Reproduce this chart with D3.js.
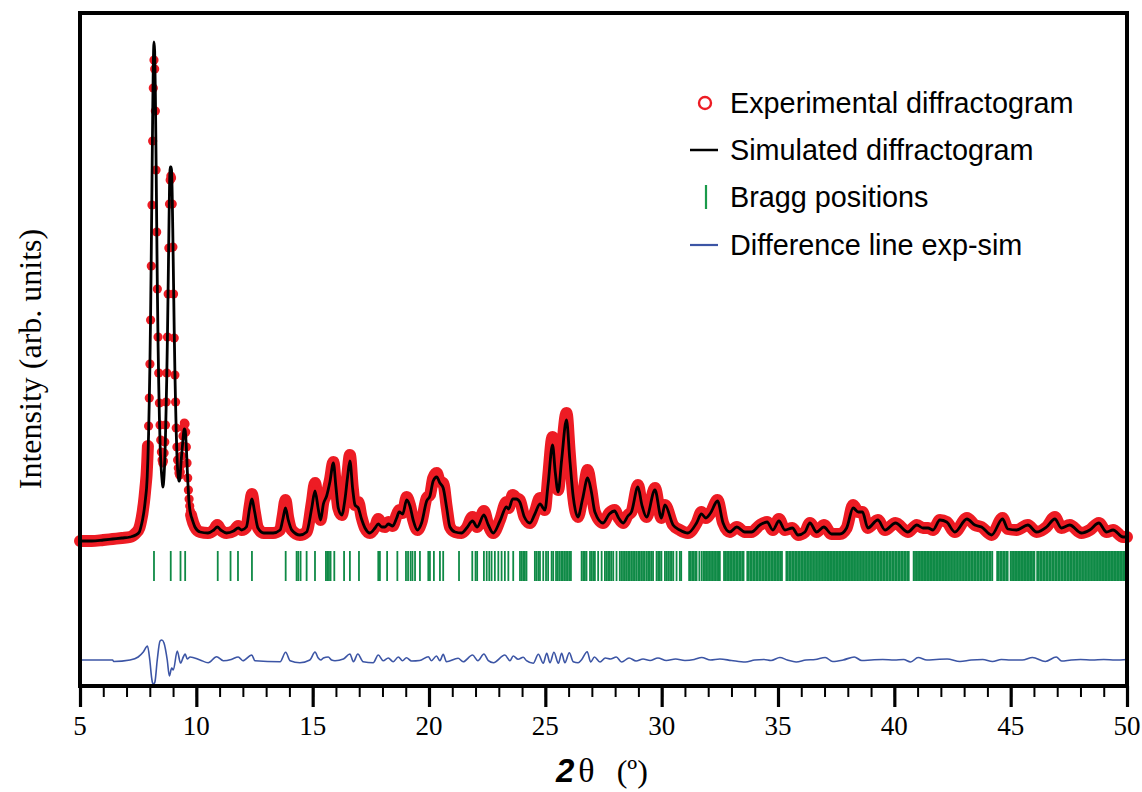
<!DOCTYPE html>
<html><head><meta charset="utf-8">
<script src="https://cdn.jsdelivr.net/npm/d3@7"></script>
<style>body{margin:0;background:#fff}</style>
</head><body>
<svg id="chart" width="1142" height="792"></svg>
<script>
// ---- data (2θ in degrees, intensity in arbitrary units) ----
const twoTheta = [5.0,5.5,6.0,6.4,6.8,7.15,7.4,7.55,
7.658,7.687,7.716,7.745,7.774,7.803,7.832,7.861,7.890,7.919,7.948,7.977,8.006,8.035,8.064,8.093,8.122,8.151,
8.180,8.209,8.238,8.267,8.296,8.325,8.354,8.383,8.412,8.441,8.470,8.499,8.528,8.557,8.586,8.615,8.644,8.673,8.702,8.731,
8.760,8.789,8.818,8.847,8.876,8.905,8.934,8.963,8.992,9.021,9.050,9.079,9.108,9.137,9.166,9.195,9.224,9.253,9.282,9.311,
9.340,9.369,9.398,9.427,9.456,9.485,9.514,9.543,9.572,9.601,9.630,9.659,9.688,9.717,9.746,9.775,9.804,
9.94,10.16,10.5,10.75,10.9,11.05,11.3,11.6,11.8,11.95,12.15,12.3,12.39,12.5,12.65,12.9,13.3,13.6,13.72,13.83,13.95,14.1,14.45,14.74,14.96,15.1,15.24,15.34,15.46,15.6,15.74,15.89,16.0,16.1,16.25,16.39,16.5,16.6,16.72,16.82,16.96,17.1,17.25,17.46,17.68,17.82,17.97,18.11,18.25,18.44,18.61,18.72,18.87,19.04,19.18,19.32,19.5,19.68,19.9,20.04,20.18,20.33,20.47,20.61,20.76,20.9,21.12,21.4,21.62,21.87,22.07,22.36,22.55,22.76,23.05,23.33,23.42,23.6,23.75,23.9,24.1,24.34,24.55,24.77,24.98,25.12,25.31,25.43,25.55,25.7,25.91,26.05,26.2,26.4,26.6,26.82,26.98,27.13,27.48,27.75,27.98,28.15,28.34,28.55,28.7,28.98,29.15,29.35,29.71,29.99,30.14,30.49,30.78,31.13,31.5,31.71,31.9,32.1,32.4,32.64,32.93,33.23,33.57,33.86,34.22,34.53,34.78,35.04,35.3,35.62,35.86,36.16,36.37,36.66,36.97,37.3,37.66,37.95,38.23,38.45,38.63,38.86,39.29,39.6,40.05,40.58,40.97,41.23,41.45,41.66,41.96,42.25,42.6,43.12,43.46,43.75,44.18,44.65,44.88,45.25,45.74,46.11,46.54,46.9,47.18,47.54,48.04,48.4,48.79,49.12,49.4,49.83,50.0];
const experimental = [0,0,1,2,3,4,8,13,
24,28,33,38,44,51,58,66,79,95,115,143,177,221,275,336,400,453,
481,472,430,371,309,252,204,168,138,116,101,89,81,78,80,88,99,116,139,168,
204,247,293,337,361,365,363,337,294,247,203,166,139,113,94,81,73,68,66,69,
76,85,95,105,113,118,117,109,94,78,63,51,42,35,30,26,23,
14,9,8,11,16,11,8,10,15,11,14,36,47,31,13,8,8,11,26,41,23,11,6,9,38,58,34,21,39,47,61,79,54,33,26,44,68,86,54,36,39,24,13,8,14,22,15,14,19,15,26,31,28,44,36,21,11,19,43,46,63,68,59,58,34,14,9,8,13,24,14,30,16,8,21,39,33,46,43,41,24,18,29,43,31,64,104,71,51,88,128,88,44,24,44,71,51,29,18,28,31,23,18,26,29,56,36,24,53,23,36,16,11,8,18,29,23,28,41,18,9,14,9,9,16,19,11,22,11,13,6,9,18,9,16,7,7,13,36,29,29,13,21,11,18,9,16,13,13,11,21,19,9,23,16,14,6,23,12,11,16,9,14,24,13,16,8,11,18,9,11,4,4];
const simulated = [0,0,1,2,3,4,6,9,
18,21,25,29,34,40,46,53,65,83,107,139,178,228,289,356,423,477,
499,490,450,387,318,252,199,158,124,98,81,69,61,54,57,66,81,104,133,166,
207,255,306,353,374,374,371,346,304,257,210,169,137,108,86,72,64,60,60,67,
78,86,94,102,109,112,111,105,93,77,61,49,39,32,28,25,23,
14,9,8,11,14,11,8,10,13,11,14,34,42,30,13,8,8,11,22,33,21,11,6,9,33,50,32,21,37,45,59,78,54,33,26,42,64,80,52,36,33,22,13,8,13,17,14,14,17,15,23,29,27,41,35,21,11,18,40,45,60,64,58,53,33,14,9,8,13,20,14,26,16,8,20,34,32,42,42,39,24,18,27,37,31,57,96,68,49,81,121,82,44,24,42,63,49,29,18,27,30,23,18,25,29,54,36,24,51,23,36,16,11,8,18,27,23,28,40,18,9,14,9,9,16,19,11,20,11,13,6,9,18,9,14,7,7,13,33,29,29,13,21,11,18,9,16,13,13,11,21,19,9,22,16,14,6,22,12,11,16,9,14,22,13,16,8,11,18,9,11,4,4];
const diffTheta = [5.0,6.4,6.45,7.15,7.5,7.72,7.9,8.0,8.08,8.12,8.17,8.22,8.32,8.44,8.52,8.61,8.75,8.84,8.94,9.01,9.18,9.32,9.44,9.52,9.61,9.73,10.16,10.51,10.87,11.16,11.5,11.8,12.0,12.38,12.52,13.6,13.84,14.03,14.45,14.88,15.1,15.24,15.35,15.46,15.67,15.81,15.96,16.32,16.6,16.75,16.94,17.17,17.6,17.82,18.03,18.25,18.46,18.68,18.86,19.03,19.25,19.6,19.97,20.1,20.32,20.47,20.61,20.75,21.25,21.47,21.87,22.1,22.36,22.55,22.77,23.26,23.48,23.62,23.83,24.05,24.19,24.48,24.7,24.91,25.06,25.2,25.37,25.56,25.7,25.84,26.03,26.2,26.41,26.55,26.8,26.95,27.11,27.35,27.58,27.8,28.05,28.28,28.6,28.9,29.2,29.5,29.84,30.2,30.6,31.0,31.4,31.72,32.1,32.5,33.0,33.6,34.0,34.4,34.7,35.08,35.4,35.78,36.2,36.6,37.03,37.35,37.8,38.28,38.6,39.0,39.5,40.0,40.4,40.7,41.02,41.4,41.8,42.27,42.82,43.3,43.8,44.22,44.6,45.0,45.5,45.94,46.49,46.96,47.19,47.6,48.0,48.5,49.0,49.5,50.0];
const difference = [0,0,-1.5,0,3,8,14,0,-18,-23,-24,-22,0,19,20,17,0,-16,-8,-10,9,-3,3,6,1,3,0,-2.7,3.3,-0.7,0.5,3,-0.7,5,-0.7,-1.7,7.7,-0.7,-2.7,0,8,2,0,2,3,0,-0.7,1,6,-1.7,6,-1.7,-2.7,5,-0.7,2,-1.7,3,-0.7,2.3,-1,-0.5,3.3,-0.7,4,-0.7,5.7,-1.7,1.7,-1.7,5,-0.7,6,-0.7,-2.7,5,-0.7,4,0.7,2.7,-0.7,-3.3,5.7,-3.3,6.7,-2.7,7.7,-3.3,6.7,-2.7,7.3,-1.7,-2.7,0,8.3,-2,3,-2,2,1,3,-2,2,-1,1,-0.5,2,-0.5,1,-0.5,0.5,2.5,0,1,-0.5,-2,0,0.5,-0.5,2.5,0,-2,0,0.5,2.5,-1.5,0,3,-0.5,0,0.5,0,0.5,-2,2.5,0,0.5,1,-1.5,0,0.5,-1.5,0.5,0,0,2.5,-1.5,3,-1,0,0.5,0,0.5,0,0.5];
const braggPositions = [8.18,8.90,9.32,9.52,10.92,11.47,11.79,12.39,13.84,14.31,14.38,14.48,14.74,15.10,15.57,15.63,15.70,15.77,15.93,16.35,16.60,16.99,17.82,17.89,18.20,18.64,19.01,19.10,19.21,19.29,19.40,19.61,19.97,20.04,20.21,20.47,20.61,21.29,21.86,22.00,22.07,22.36,22.48,22.59,22.69,22.83,22.98,23.12,23.26,23.41,23.62,23.91,23.98,24.05,24.12,24.19,24.55,24.62,24.70,24.77,24.91,25.03,25.12,25.27,25.34,25.46,25.53,25.60,25.68,25.75,25.82,25.89,25.96,26.03,26.10,26.56,26.63,26.70,26.77,26.92,26.99,27.06,27.13,27.27,27.42,27.56,27.63,27.70,27.77,27.84,27.92,28.06,28.20,28.27,28.34,28.42,28.49,28.56,28.63,28.70,28.77,28.84,28.91,28.99,29.06,29.13,29.20,29.27,29.35,29.42,29.49,29.56,29.63,29.78,29.85,29.92,29.99,30.14,30.21,30.28,30.36,30.43,30.50,30.64,30.78,30.84,31.18,31.24,31.31,31.37,31.44,31.50,31.62,31.72,31.80,31.86,31.92,31.99,32.05,32.12,32.18,32.25,32.31,32.38,32.44,32.50,32.68,32.74,32.81,32.87,32.94,33.00,33.07,33.13,33.20,33.26,33.33,33.39,33.46,33.52,33.68,33.74,33.81,33.87,33.94,34.00,34.07,34.13,34.20,34.26,34.33,34.39,34.46,34.52,34.59,34.65,34.72,34.78,34.85,34.91,34.98,35.04,35.11,35.17,35.36,35.42,35.49,35.55,35.62,35.68,35.75,35.81,35.88,35.94,36.01,36.07,36.14,36.20,36.27,36.33,36.40,36.46,36.53,36.59,36.66,36.72,36.79,36.85,36.92,36.98,37.05,37.11,37.18,37.24,37.31,37.37,37.44,37.50,37.57,37.63,37.70,37.76,37.83,37.89,37.96,38.02,38.09,38.15,38.22,38.28,38.35,38.41,38.48,38.54,38.61,38.67,38.74,38.80,38.87,38.93,39.00,39.06,39.13,39.19,39.26,39.32,39.39,39.45,39.52,39.58,39.65,39.71,39.78,39.84,39.91,39.97,40.04,40.10,40.17,40.23,40.30,40.36,40.43,40.49,40.56,40.62,40.83,40.89,40.96,41.02,41.09,41.15,41.22,41.28,41.35,41.41,41.48,41.54,41.61,41.67,41.74,41.80,41.87,41.93,42.00,42.06,42.13,42.19,42.26,42.32,42.39,42.45,42.52,42.58,42.65,42.71,42.78,42.84,42.91,42.97,43.04,43.10,43.17,43.23,43.30,43.36,43.43,43.49,43.56,43.62,43.69,43.75,43.82,43.88,43.95,44.01,44.08,44.14,44.21,44.42,44.48,44.55,44.61,44.68,44.74,44.81,44.87,45.00,45.06,45.13,45.19,45.26,45.32,45.39,45.45,45.52,45.58,45.65,45.71,45.78,45.84,45.91,45.97,46.02,46.14,46.20,46.27,46.33,46.40,46.46,46.53,46.59,46.66,46.72,46.79,46.85,46.92,46.98,47.05,47.11,47.18,47.24,47.31,47.37,47.44,47.50,47.57,47.63,47.70,47.76,47.83,47.89,47.96,48.02,48.09,48.15,48.22,48.28,48.35,48.41,48.48,48.54,48.61,48.67,48.74,48.80,48.87,48.93,49.00,49.06,49.13,49.19,49.26,49.32,49.39,49.45,49.52,49.58,49.65,49.71,49.78,49.84,49.91,49.96];
const xMajorTicks = [5,10,15,20,25,30,35,40,45,50];
const xMinorTicks = [5,6,7,8,9,10,11,12,13,14,15,16,17,18,19,20,21,22,23,24,25,26,27,28,29,30,31,32,33,34,35,36,37,38,39,40,41,42,43,44,45,46,47,48,49,50];
const legendLabels = ["Experimental diffractogram","Simulated diffractogram","Bragg positions","Difference line exp-sim"];

// ---- layout / style constants ----
const RED = "#ed1c24", GREEN = "#0f8a46", BLUE = "#3c55a5";
const diffOffset = -119, braggTop = -10, braggBottom = -40;

const svg = d3.select("#chart");
svg.append("rect").attr("width",1142).attr("height",792).attr("fill","#fff");

const x = d3.scaleLinear().domain([5,50]).range([80,1127]);
const y = d3.scaleLinear().domain([-145,528]).range([686,13]);

// Bragg positions
svg.append("g").selectAll("line").data(braggPositions).join("line")
  .attr("x1",d=>x(d)).attr("x2",d=>x(d))
  .attr("y1",y(braggTop)).attr("y2",y(braggBottom))
  .attr("stroke",GREEN).attr("stroke-width",1.8);

// experimental (dense points rendered as a band + dots)
const expPts = twoTheta.map((t,i)=>[t,experimental[i]]);
const band = d3.line().defined(d=>d[0]<7.93||d[0]>9.76)
  .x(d=>x(d[0])).y(d=>y(d[1])).curve(d3.curveMonotoneX);
svg.append("path").datum(expPts).attr("d",band).attr("fill","none")
  .attr("stroke",RED).attr("stroke-width",12)
  .attr("stroke-linejoin","round").attr("stroke-linecap","round");
svg.append("g").selectAll("circle").data(expPts).join("circle")
  .attr("cx",d=>x(d[0])).attr("cy",d=>y(d[1])).attr("r",4.6).attr("fill",RED);

// simulated
const simPts = twoTheta.map((t,i)=>[t,simulated[i]]);
const line = d3.line().x(d=>x(d[0])).y(d=>y(d[1])).curve(d3.curveMonotoneX);
svg.append("path").datum(simPts).attr("d",line).attr("fill","none")
  .attr("stroke","#000").attr("stroke-width",2.8).attr("stroke-linejoin","round");

// difference
const diffPts = diffTheta.map((t,i)=>[t,diffOffset+difference[i]]);
svg.append("path").datum(diffPts).attr("d",line).attr("fill","none")
  .attr("stroke",BLUE).attr("stroke-width",1.6);

// frame
svg.append("rect").attr("x",80).attr("y",13).attr("width",1047).attr("height",673)
  .attr("fill","none").attr("stroke","#000").attr("stroke-width",4);

// x axis ticks
const gMin = svg.append("g").attr("transform","translate(0,686)")
  .call(d3.axisBottom(x).tickValues(xMinorTicks).tickSize(11).tickFormat(""));
gMin.select(".domain").remove();
gMin.selectAll("line").attr("stroke","#000").attr("stroke-width",2);
const gMaj = svg.append("g").attr("transform","translate(0,686)")
  .call(d3.axisBottom(x).tickValues(xMajorTicks).tickSize(21).tickFormat(""));
gMaj.select(".domain").remove();
gMaj.selectAll("line").attr("stroke","#000").attr("stroke-width",3.2);

svg.append("g").selectAll("text").data(xMajorTicks).join("text")
  .attr("x",d=>x(d)).attr("y",735).attr("text-anchor","middle")
  .attr("font-family","'Liberation Serif','Times New Roman',serif").attr("font-size",27)
  .attr("fill","#000").text(d=>d);

// x title
const xt = svg.append("text").attr("x",556).attr("y",782).attr("fill","#000");
xt.append("tspan").attr("font-family","'Liberation Sans',Arial,sans-serif").attr("font-weight","bold")
  .attr("font-style","italic").attr("font-size",33).text("2");
xt.append("tspan").attr("dx",4).attr("font-family","'Liberation Serif','Times New Roman',serif")
  .attr("font-size",34).text("θ");
xt.append("tspan").attr("dx",22).attr("font-family","'Liberation Serif','Times New Roman',serif")
  .attr("font-size",32).text("(º)");

// y title
svg.append("text").attr("transform","translate(41,359) rotate(-90)").attr("text-anchor","middle")
  .attr("font-family","'Liberation Serif','Times New Roman',serif").attr("font-size",32)
  .attr("fill","#000").text("Intensity (arb. units)");

// legend
const lg = svg.append("g");
const rowY = [103,150,197,245];
lg.append("circle").attr("cx",705).attr("cy",rowY[0]).attr("r",6).attr("fill","none")
  .attr("stroke",RED).attr("stroke-width",2.4);
lg.append("line").attr("x1",690).attr("x2",718).attr("y1",rowY[1]).attr("y2",rowY[1])
  .attr("stroke","#000").attr("stroke-width",2.5);
lg.append("line").attr("x1",706).attr("x2",706).attr("y1",rowY[2]-12).attr("y2",rowY[2]+12)
  .attr("stroke","#1a9a4a").attr("stroke-width",2.2);
lg.append("line").attr("x1",690).attr("x2",718).attr("y1",rowY[3]).attr("y2",rowY[3])
  .attr("stroke",BLUE).attr("stroke-width",2.2);
lg.selectAll("text").data(legendLabels).join("text")
  .attr("x",730).attr("y",(d,i)=>rowY[i]+10)
  .attr("font-family","'Liberation Sans',Arial,sans-serif").attr("font-size",28.8)
  .attr("fill","#000").text(d=>d);
</script>
</body></html>
